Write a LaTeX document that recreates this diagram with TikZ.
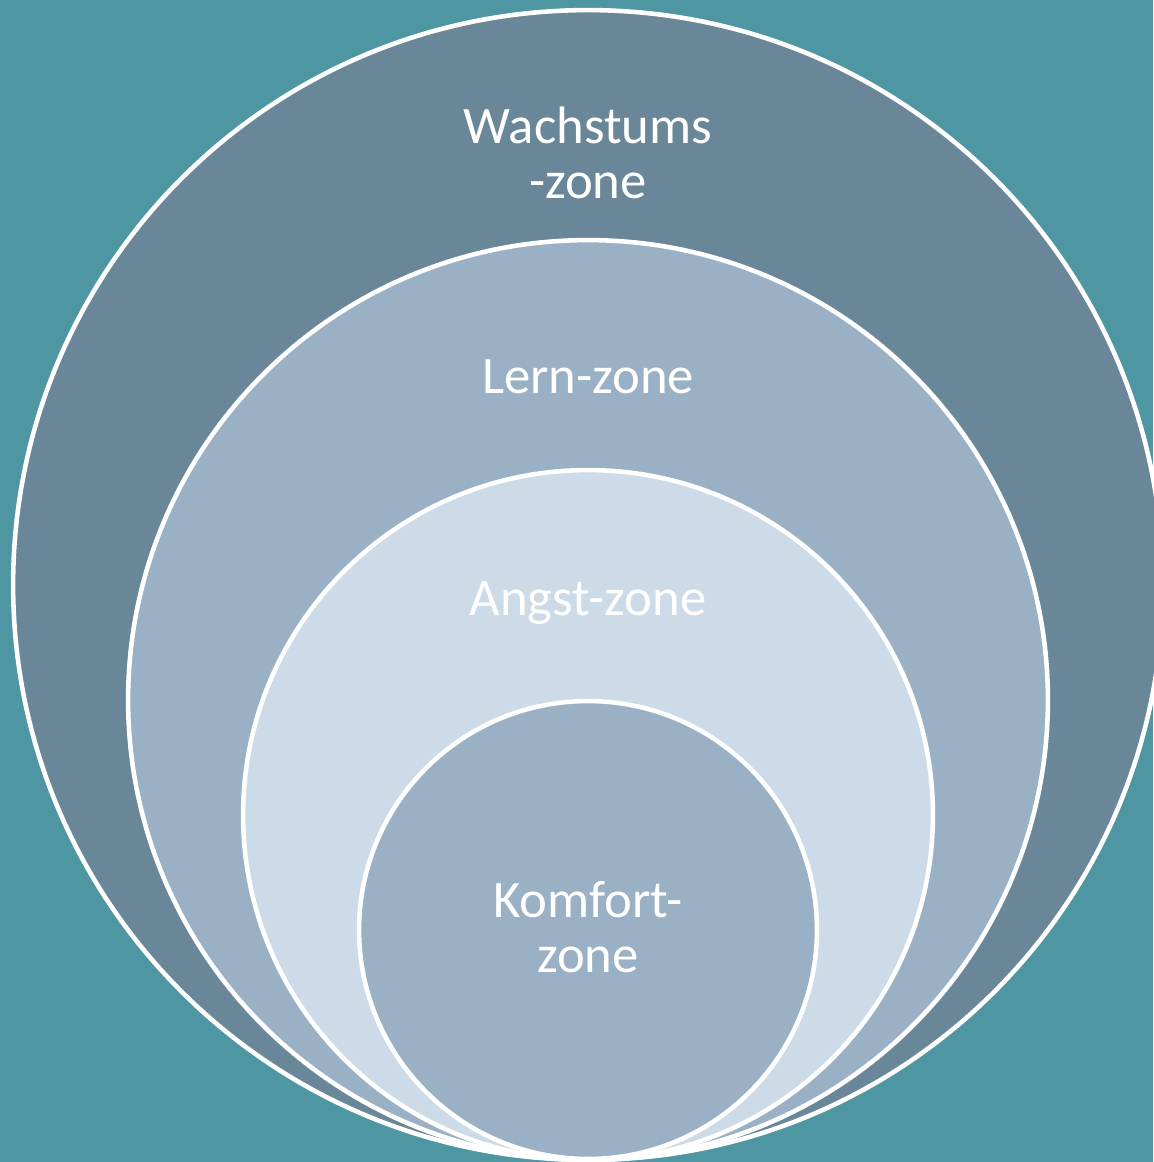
\documentclass[tikz,border=0pt]{standalone}
\usepackage{fontspec}
\setmainfont{Carlito}
\definecolor{bgteal}{HTML}{4F96A3}
\definecolor{zoneA}{HTML}{6A8699}
\definecolor{zoneB}{HTML}{9AB0C5}
\definecolor{zoneC}{HTML}{CDDAE7}
\begin{document}
\begin{tikzpicture}[x=0.02cm,y=-0.02cm,
  zone/.style={circle,draw=white,line width=2.6pt,inner sep=0pt,minimum size=#1},
  zonelabel/.style={text=white,font=\fontsize{30}{31.2}\selectfont,align=center,anchor=base,inner sep=0pt}]
\fill[bgteal] (0,0) rectangle (1153,1162);
\useasboundingbox (0,0) rectangle (1153,1162);
\node[zone=23cm,fill=zoneA] (wachstum) at (588,585) {};
\node[zone=18.4cm,fill=zoneB] (lern) at (588,700) {};
\node[zone=13.8cm,fill=zoneC] (angst) at (588,815) {};
\node[zone=9.16cm,fill=zoneB] (komfort) at (588,930) {};
\node[zonelabel] (lw) at (588,198) {Wachstums\\-zone};
\node[zonelabel] (ll) at (588,393) {Lern-zone};
\node[zonelabel] (la) at (588,615) {Angst-zone};
\node[zonelabel] (lk) at (588,972) {Komfort-\\zone};
\end{tikzpicture}
\end{document}
